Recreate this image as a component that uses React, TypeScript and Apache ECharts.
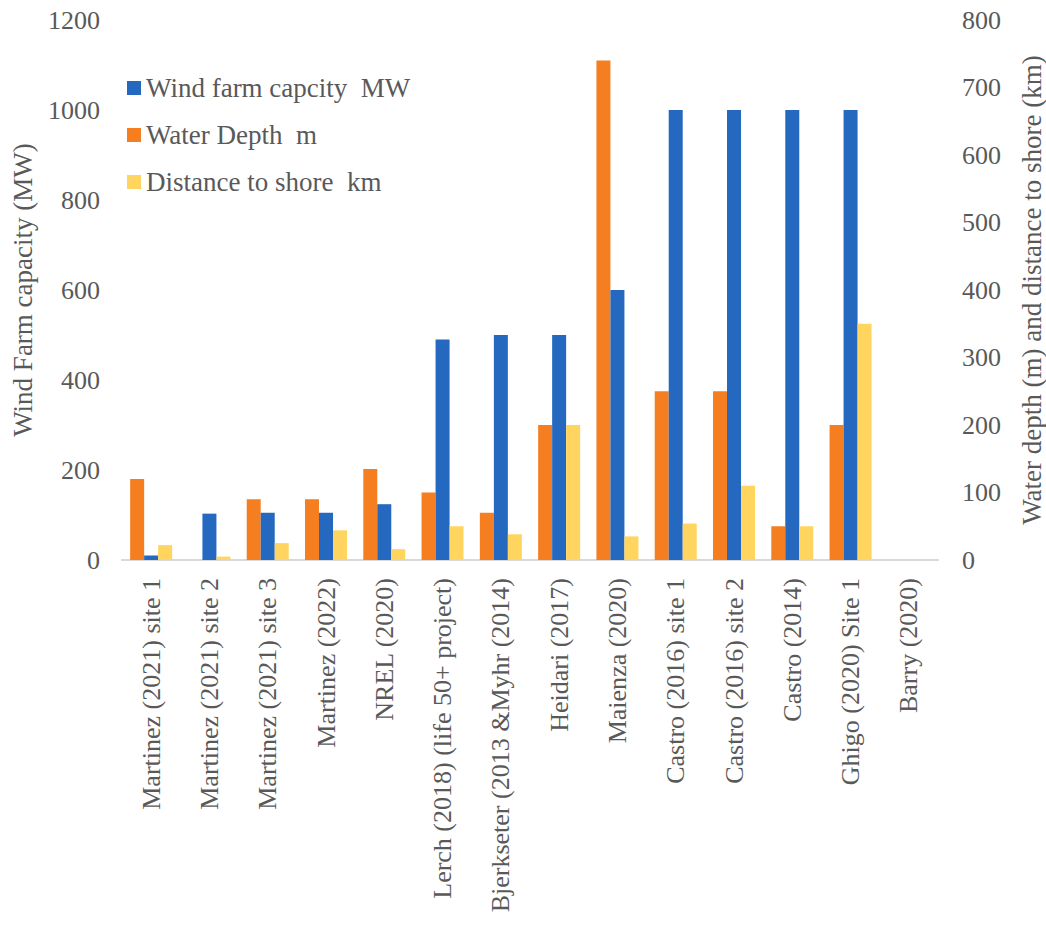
import React, { useEffect, useRef } from "react";
import * as echarts from "echarts";

const categories = [
  "Martinez (2021) site 1",
  "Martinez (2021) site 2",
  "Martinez (2021) site 3",
  "Martinez (2022)",
  "NREL (2020)",
  "Lerch (2018) (life 50+ project)",
  "Bjerkseter (2013 &Myhr (2014)",
  "Heidari (2017)",
  "Maienza (2020)",
  "Castro (2016) site 1",
  "Castro (2016) site 2",
  "Castro (2014)",
  "Ghigo (2020) Site 1",
  "Barry (2020)",
];

const capacityMW = [10, 103, 105, 105, 124, 490, 500, 500, 600, 1000, 1000, 1000, 1000, null];
const waterDepthM = [120, null, 90, 90, 135, 100, 70, 200, 740, 250, 250, 50, 200, null];
const distanceKm = [22, 5, 25, 44, 16, 50, 38, 200, 35, 54, 110, 50, 350, null];

const leftTicks = [0, 1200, 200];
const rightTicks = [0, 800, 100];

const FONT = '"Liberation Serif", "Times New Roman", serif';
const TEXT = "#595959";

export default function App() {
  const ref = useRef<HTMLDivElement>(null);
  useEffect(() => {
    if (!ref.current) return;
    const chart = echarts.init(ref.current, undefined, { renderer: "svg" });
    chart.setOption({
      animation: false,
      textStyle: { fontFamily: FONT, color: TEXT },
      legend: {
        orient: "vertical",
        left: 122,
        top: 69,
        itemWidth: 14,
        itemHeight: 14,
        itemGap: 19,
        icon: "rect",
        data: ["Wind farm capcity  MW", "Water Depth  m", "Distance to shore  km"],
        textStyle: { fontFamily: FONT, fontSize: 27, color: TEXT, lineHeight: 28 },
      },
      grid: {
        left: 122,
        right: 108,
        top: 20,
        bottom: 375,
        containLabel: false,
        outerBoundsMode: "none",
      },
      xAxis: {
        type: "category",
        data: categories,
        axisLine: { lineStyle: { color: "#d9d9d9", width: 2 } },
        axisTick: { show: false },
        axisLabel: {
          rotate: 90,
          interval: 0,
          margin: 18,
          fontFamily: FONT,
          fontSize: 26,
          color: TEXT,
        },
      },
      yAxis: [
        {
          type: "value",
          min: leftTicks[0],
          max: leftTicks[1],
          interval: leftTicks[2],
          splitLine: { show: false },
          axisLine: { show: false },
          axisTick: { show: false },
          axisLabel: {
            fontFamily: FONT,
            fontSize: 26,
            color: TEXT,
            margin: 22,
            formatter: (v: number) => String(v),
          },
          name: "Wind Farm capacity (MW)",
          nameLocation: "middle",
          nameRotate: 90,
          nameGap: 86,
          nameTextStyle: { fontFamily: FONT, fontSize: 27, color: TEXT },
        },
        {
          type: "value",
          min: rightTicks[0],
          max: rightTicks[1],
          interval: rightTicks[2],
          position: "right",
          splitLine: { show: false },
          axisLine: { show: false },
          axisTick: { show: false },
          axisLabel: {
            fontFamily: FONT,
            fontSize: 26,
            color: TEXT,
            margin: 24,
            formatter: (v: number) => String(v),
          },
          name: "Water depth (m) and distance to shore (km)",
          nameLocation: "middle",
          nameRotate: 90,
          nameGap: 80,
          nameTextStyle: { fontFamily: FONT, fontSize: 27, color: TEXT },
        },
      ],
      series: [
        {
          name: "Water Depth  m",
          type: "bar",
          yAxisIndex: 1,
          data: waterDepthM,
          barWidth: 14,
          barGap: "0%",
          itemStyle: { color: "#F57F20" },
        },
        {
          name: "Wind farm capcity  MW",
          type: "bar",
          yAxisIndex: 0,
          data: capacityMW,
          barWidth: 14,
          barGap: "0%",
          itemStyle: { color: "#2468BF" },
        },
        {
          name: "Distance to shore  km",
          type: "bar",
          yAxisIndex: 1,
          data: distanceKm,
          barWidth: 14,
          barGap: "0%",
          itemStyle: { color: "#FFD55F" },
        },
      ],
    });
    return () => chart.dispose();
  }, []);
  return (
    <div
      ref={ref}
      style={{ position: "absolute", left: 0, top: 0, width: 1046, height: 935, background: "#fff" }}
    />
  );
}
